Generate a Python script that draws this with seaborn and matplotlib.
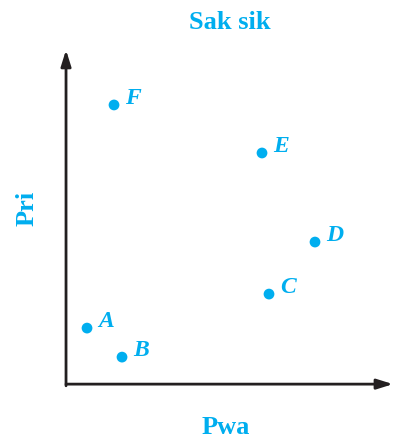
import matplotlib
matplotlib.use("Agg")
import matplotlib.pyplot as plt
import seaborn as sns
import pandas as pd

# point data
names = ["A", "B", "C", "D", "E", "F"]
pwa = [2.1, 5.6, 20.3, 24.9, 19.6, 4.8]
pri = [5.6, 2.7, 9.0, 14.2, 23.1, 27.9]

title = "Sak sik"
xlabel = "Pwa"
ylabel = "Pri"

cyan = "#00aeef"
ink = "#231f20"

df = pd.DataFrame({"name": names, "Pwa": pwa, "Pri": pri})

sns.set_theme(style="white")
plt.rcParams["font.family"] = ["Liberation Serif", "DejaVu Serif"]

fig = plt.figure(figsize=(3.93, 4.38), dpi=100)
ax = fig.add_axes([0.168, 0.123, 0.832, 0.763])

sns.scatterplot(data=df, x="Pwa", y="Pri", color=cyan, s=60,
                edgecolor="none", ax=ax, zorder=3)

for n, x, y in zip(df["name"], df["Pwa"], df["Pri"]):
    ax.annotate(n, (x, y), xytext=(8, 5), textcoords="offset points",
                color=cyan, fontsize=17, fontweight="bold", style="italic",
                va="center", ha="left")

ax.set_xlim(0, 32.7)
ax.set_ylim(0, 33.4)
ax.set_xticks([])
ax.set_yticks([])
for s in ax.spines.values():
    s.set_visible(False)
ax.set_xlabel("")
ax.set_ylabel("")

# axis arrows
ax.annotate("", xy=(1, 0), xytext=(0, 0), xycoords="axes fraction",
            arrowprops=dict(arrowstyle="-|>,head_length=0.8,head_width=0.25",
                            color=ink, lw=2, shrinkA=0, shrinkB=0))
ax.annotate("", xy=(0, 1), xytext=(0, -0.005), xycoords="axes fraction",
            arrowprops=dict(arrowstyle="-|>,head_length=0.8,head_width=0.25",
                            color=ink, lw=2, shrinkA=0, shrinkB=0))

fig.text(0.585, 0.948, title, color=cyan, fontsize=19, fontweight="bold",
         ha="center", va="center")
fig.text(0.575, 0.025, xlabel, color=cyan, fontsize=19, fontweight="bold",
         ha="center", va="center")
fig.text(0.069, 0.525, ylabel, color=cyan, fontsize=19, fontweight="bold",
         ha="center", va="center", rotation=90)

fig.savefig("out.png", dpi=100, facecolor="white")
